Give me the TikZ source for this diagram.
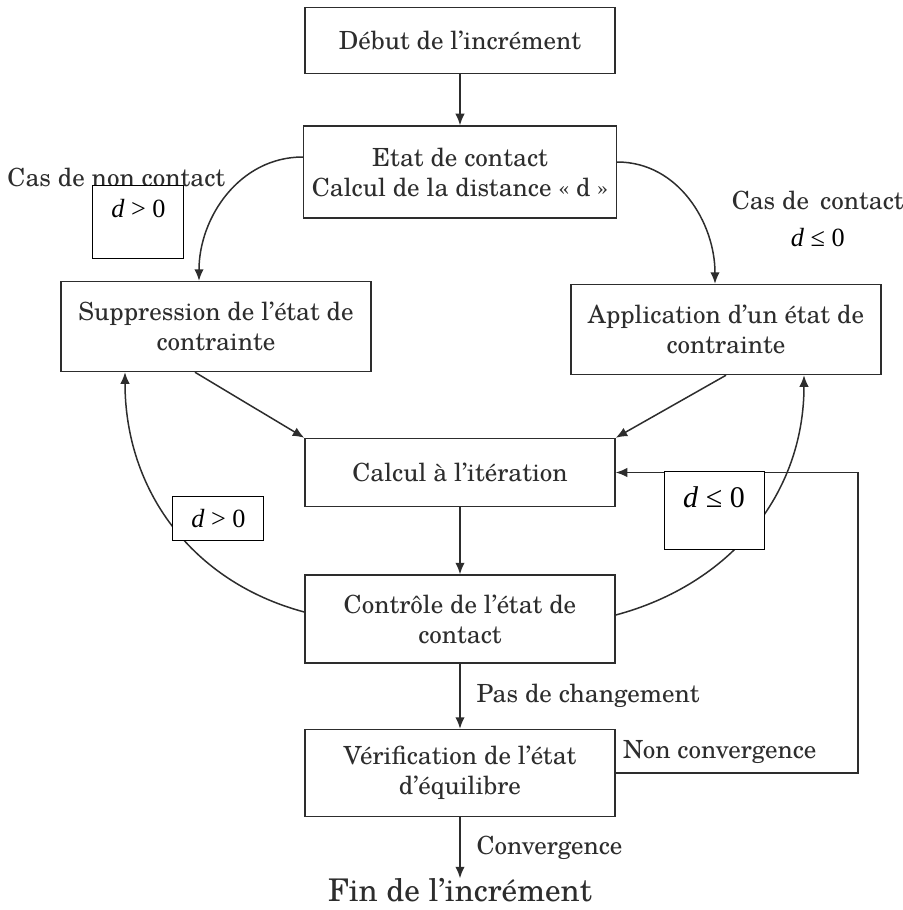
\documentclass[tikz,border=0pt]{standalone}
\usepackage{fontspec}
\setmainfont{texgyreschola-regular.otf}
\newfontfamily\tnr{Liberation Serif}[ItalicFont={Liberation Serif Italic}]
\usepackage{tikz}
\usetikzlibrary{arrows.meta, positioning}
\definecolor{ink}{RGB}{45, 45, 45}

\begin{document}
\begin{tikzpicture}[
    box/.style={rectangle, draw=ink, line width=0.6pt, minimum width=124pt, align=center, text=ink},
    dbox/.style={rectangle, draw, fill=white, inner sep=0pt, font=\tnr\fontsize{10.5}{12}\selectfont},
    lbl/.style={text=ink},
    arr/.style={-{Latex[length=4.6pt, width=3.8pt]}, line width=0.6pt, draw=ink}
]
    \useasboundingbox (-184pt,68.8pt) rectangle (177.2pt,-295.2pt);

    \node[box, minimum height=36.8pt] (etat) at (0,0) {Etat de contact\\Calcul de la distance «~d~»};
    \node[box, minimum height=26.4pt, above=20.4pt of etat] (debut) {Début de l'incrément};
    \node[box, minimum height=36pt, below=24.8pt of etat, xshift=-97.6pt] (supp) {Suppression de l'état de\\contrainte};
    \node[box, minimum height=36pt, below=26pt of etat, xshift=106.4pt] (appl) {Application d'un état de\\contrainte};
    \node[box, minimum height=27.2pt, below=87.6pt of etat] (calc) {Calcul à l'itération};
    \node[box, minimum height=35.2pt, below=26.8pt of calc] (ctrl) {Contrôle de l'état de\\contact};
    \node[box, minimum height=34.8pt, below=26pt of ctrl] (verif) {Vérification de l'état\\d'équilibre};
    \node[below=24.4pt of verif, inner sep=0pt, text=ink, font=\fontsize{12.5}{15}\selectfont] (fin) {Fin de l'incrément};

    \node[lbl, left=27.5pt of etat, yshift=-2pt] (nocont) {Cas de non contact};
    \node[lbl, right=42.3pt of etat, yshift=-11.2pt] (cont) {Cas de\, contact};
    \node[below=0.5pt of cont, font=\tnr\fontsize{10.5}{12}\selectfont] (condA) {\textit{d} ≤ 0};

    \draw[arr] (debut) -- (etat);
    \draw[arr] ([yshift=6pt]etat.west) to[out=180, in=90] ([xshift=-6.8pt]supp.north);
    \draw[arr] ([yshift=4pt]etat.east) to[out=0, in=90] ([xshift=-4.4pt]appl.north);
    \draw[arr] ([xshift=-8.4pt]supp.south) -- (calc.north west);
    \draw[arr] (appl.south) -- (calc.north east);
    \draw[arr] (calc) -- (ctrl);
    \draw[arr] (ctrl) -- node[lbl, right=3pt] {Pas de changement} (verif);
    \draw[arr] (verif) -- node[lbl, right=3pt] {Convergence} (fin);
    \draw[arr] (verif.east) -- node[lbl, above, pos=0.43] {Non convergence} ++(96.8pt,0) |- (calc.east);
    \draw[arr] ([yshift=2.8pt]ctrl.west) to[out=165, in=-90] ([xshift=-36.4pt]supp.south);
    \draw[arr] ([yshift=1.6pt]ctrl.east) to[out=15, in=-90] ([xshift=31.2pt]appl.south);

    \node[dbox, minimum width=36.4pt, minimum height=29.2pt, text height=12.8pt, text depth=16.4pt] (gapA) at (-128.6pt,-19.8pt) {\textit{d} > 0};
    \node[dbox, minimum width=36.4pt, minimum height=17.6pt, text height=12.4pt, text depth=5.2pt] (gapB) at (-96.6pt,-138.4pt) {\textit{d} > 0};
    \node[dbox, minimum width=40pt, minimum height=31.2pt, text height=14.4pt, text depth=16.8pt, font=\tnr\fontsize{12}{14}\selectfont] (gapC) at (101.6pt,-135.2pt) {\textit{d} ≤ 0};
\end{tikzpicture}
\end{document}
